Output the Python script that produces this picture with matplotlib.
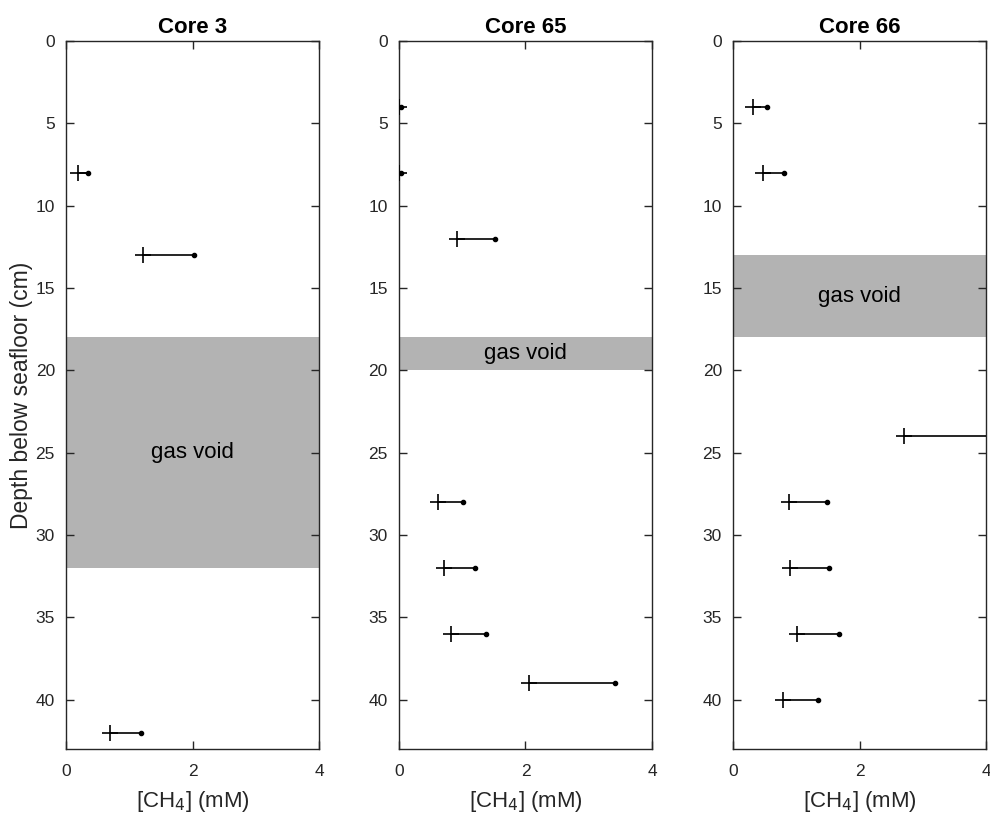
import matplotlib
matplotlib.use("Agg")
import matplotlib.pyplot as plt

plt.rcParams['font.family'] = ['Liberation Sans', 'DejaVu Sans']

cores = ["Core 3", "Core 65", "Core 66"]

# depth (cm), first and second CH4 measurement (mM)
core3_depth = [8, 13, 42]
core3_plus = [0.19, 1.22, 0.70]
core3_dot = [0.34, 2.03, 1.19]
core3_void = (18, 32)

core65_depth = [4, 8, 12, 28, 32, 36, 39]
core65_plus = [0.0, 0.0, 0.92, 0.61, 0.71, 0.83, 2.05]
core65_dot = [0.03, 0.03, 1.52, 1.01, 1.20, 1.38, 3.42]
core65_void = (18, 20)

core66_depth = [4, 8, 24, 28, 32, 36, 40]
core66_plus = [0.31, 0.48, 2.71, 0.89, 0.90, 1.01, 0.79]
core66_dot = [0.54, 0.80, 4.60, 1.49, 1.52, 1.67, 1.34]
core66_void = (13, 18)

data = [
    (core3_depth, core3_plus, core3_dot, core3_void),
    (core65_depth, core65_plus, core65_dot, core65_void),
    (core66_depth, core66_plus, core66_dot, core66_void),
]

axis_col = "#262626"
fig = plt.figure(figsize=(9.9, 8.13), dpi=100)
lefts = [0.0667, 0.403, 0.7404]

for i, (name, (depth, plus, dot, void)) in enumerate(zip(cores, data)):
    ax = fig.add_axes([lefts[i], 0.0787, 0.2556, 0.8708])
    ax.set_xlim(0, 4)
    ax.set_ylim(43, 0)
    ax.axhspan(void[0], void[1], color="#b3b3b3", lw=0, zorder=1)
    ax.text(2, (void[0] + void[1]) / 2, "gas void", ha="center", va="center",
            fontsize=16, color="black", zorder=2)
    for d, p, q in zip(depth, plus, dot):
        ax.plot([p, q], [d, d], color="black", lw=1.2, zorder=3)
    ax.plot(plus, depth, "+", color="black", ms=12, mew=1.2, zorder=4)
    ax.plot(dot, depth, ".", color="black", ms=6, zorder=4)
    ax.set_xticks([0, 2, 4])
    ax.set_yticks(range(0, 45, 5))
    ax.tick_params(direction="in", top=True, right=True, length=6, width=1,
                   labelsize=12.5, colors=axis_col, labelcolor=axis_col)
    ax.tick_params(axis="x", pad=11)
    ax.tick_params(axis="y", pad=8)
    for s in ax.spines.values():
        s.set_color(axis_col)
        s.set_linewidth(1)
    ax.set_title(name, fontsize=16, fontweight="bold", pad=6)
    ax.set_xlabel("[CH$_4$] (mM)", fontsize=16, color=axis_col, labelpad=7)
    if i == 0:
        ax.set_ylabel("Depth below seafloor (cm)", fontsize=16.5, color=axis_col,
                      labelpad=2)

fig.savefig("out.png", dpi=100)
